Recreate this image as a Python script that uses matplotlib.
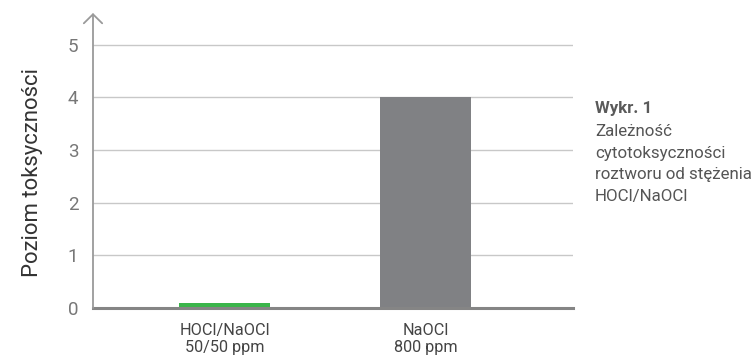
import matplotlib
matplotlib.use("Agg")
import matplotlib.pyplot as plt

categories = ["HOCl/NaOCl\n50/50 ppm", "NaOCl\n800 ppm"]
values = [0.1, 4.0]
bar_colors = ["#3ab54a", "#808184"]
yticks = [0, 1, 2, 3, 4, 5]
ylabel = "Poziom toksyczności"
note_title = "Wykr. 1"
note_body = ["Zależność", "cytotoksyczności", "roztworu od stężenia", "HOCl/NaOCl"]

plt.rcParams['font.family'] = ['Roboto', 'DejaVu Sans']

fig = plt.figure(figsize=(7.54, 3.6), dpi=100)
renderer = fig.canvas.get_renderer()


def fit_size(s, target_px, weight='normal', base=12.0):
    t = fig.text(0, 0, s, fontsize=base, fontweight=weight)
    w = t.get_window_extent(renderer).width
    t.remove()
    return base * target_px / w


ax = fig.add_axes([93/754, 52/360, 480/754, 295/360])

x = list(range(len(categories)))
ax.bar(x, values, width=0.453, color=bar_colors, zorder=3)
ax.set_xlim(-0.654, 1.734)
ax.set_ylim(0, 5.6)
ax.set_yticks(yticks)
ax.set_yticklabels([str(t) for t in yticks], fontsize=13.5, color="#777777")
ax.set_xticks(x)
xfs = fit_size("HOCl/NaOCl", 90)
ax.set_xticklabels(categories, fontsize=xfs, color="#444444", linespacing=1.22)
ax.tick_params(axis='both', length=0)
ax.tick_params(axis='y', pad=10.5)
ax.tick_params(axis='x', pad=10.5)
ax.grid(axis='y', color="#c8c8c8", linewidth=1, zorder=0)
for s in ['top', 'right']:
    ax.spines[s].set_visible(False)
ax.spines['left'].set_visible(False)
ax.spines['bottom'].set_color("#858585")
ax.spines['bottom'].set_linewidth(2.2)
ax.spines['bottom'].set_zorder(4)

ax.annotate("", xy=(0, 1.0), xycoords='axes fraction', xytext=(0, 0), textcoords='axes fraction',
            arrowprops=dict(arrowstyle='->,head_width=0.66,head_length=0.65', color="#9a9a9a", lw=1.3,
                            shrinkA=0, shrinkB=0, mutation_scale=10),
            annotation_clip=False, zorder=5)

yfs = fit_size(ylabel, 209)
ax.set_ylabel(ylabel, fontsize=yfs, color="#333333", va='baseline')
ax.yaxis.label.set_rotation_mode('anchor')
ax.yaxis.set_label_coords((38 - 93) / 480, (308 - 172.5) / 295)

tfs = fit_size(note_title, 56.7, weight='bold')
fig.text(595/754, 1 - 113/360, note_title, fontsize=tfs, fontweight='bold', color="#5a5a5a",
         va='baseline', ha='left')
nfs = fit_size("roztworu od stężenia", 156)
baselines = [136.5, 158, 179.5, 200.5]
for line, b in zip(note_body, baselines):
    fig.text(595/754, 1 - b/360, line, fontsize=nfs, color="#555555", va='baseline', ha='left')

fig.savefig("out.png", dpi=100)
